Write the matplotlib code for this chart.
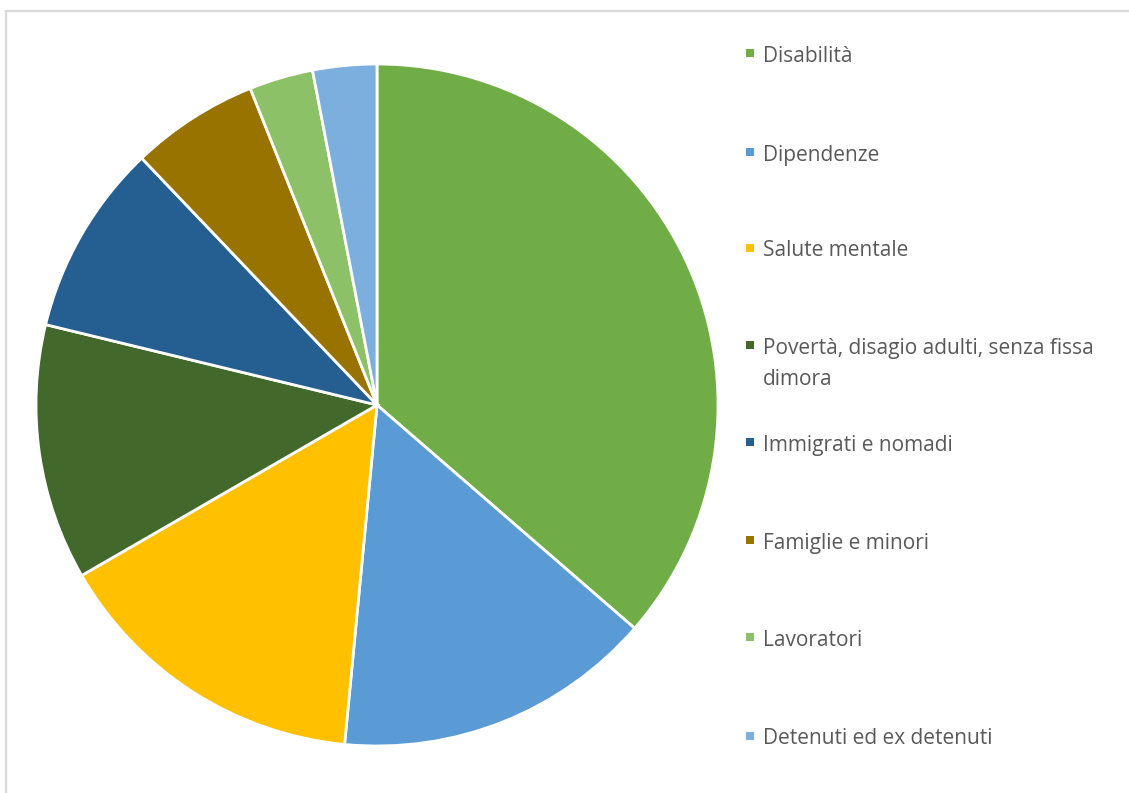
import matplotlib
matplotlib.use("Agg")
import matplotlib.pyplot as plt
from matplotlib.patches import Rectangle

# servizi per area di utenza
categories = ["Disabilità", "Dipendenze", "Salute mentale",
              "Povertà, disagio adulti, senza fissa\ndimora",
              "Immigrati e nomadi", "Famiglie e minori",
              "Lavoratori", "Detenuti ed ex detenuti"]
values = [12, 5, 5, 4, 3, 2, 1, 1]
colors = ["#70AD47", "#5B9BD5", "#FFC000", "#43682B",
          "#255E91", "#997300", "#8CC168", "#7CAFDD"]

W, H = 1129, 793
fig = plt.figure(figsize=(W / 100, H / 100), dpi=100)

# light grey chart frame (only left and top edges fall inside the image)
fig.add_artist(Rectangle((6 / W, -0.1), 1.2, (H - 11) / H + 0.1,
                         transform=fig.transFigure, fill=False,
                         edgecolor="#D9D9D9", linewidth=1.6))

cx, cy, r = 377, 405, 341
ax = fig.add_axes([(cx - r) / W, (H - cy - r) / H, 2 * r / W, 2 * r / H])
ax.pie(values, colors=colors, startangle=90, counterclock=False,
       radius=1, wedgeprops=dict(edgecolor="white", linewidth=2))
ax.set_xlim(-1, 1)
ax.set_ylim(-1, 1)
ax.set_aspect("equal")
ax.axis("off")

# legend drawn by hand on the right
legend_y = [53, 152, 248, 345, 442, 540, 637, 736]
line_gap = 31
for label, col, y in zip(categories, colors, legend_y):
    sq = 8
    fig.add_artist(Rectangle(((750 - sq / 2) / W, (H - y - sq / 2) / H),
                             sq / W, sq / H, transform=fig.transFigure,
                             facecolor=col, edgecolor="none"))
    for i, line in enumerate(label.split("\n")):
        fig.text(763 / W, (H - y - 3 - i * line_gap) / H, line, fontsize=15,
                 color="#595959", family="Open Sans", va="center",
                 transform=fig.transFigure)

fig.savefig("out.png", dpi=100)
